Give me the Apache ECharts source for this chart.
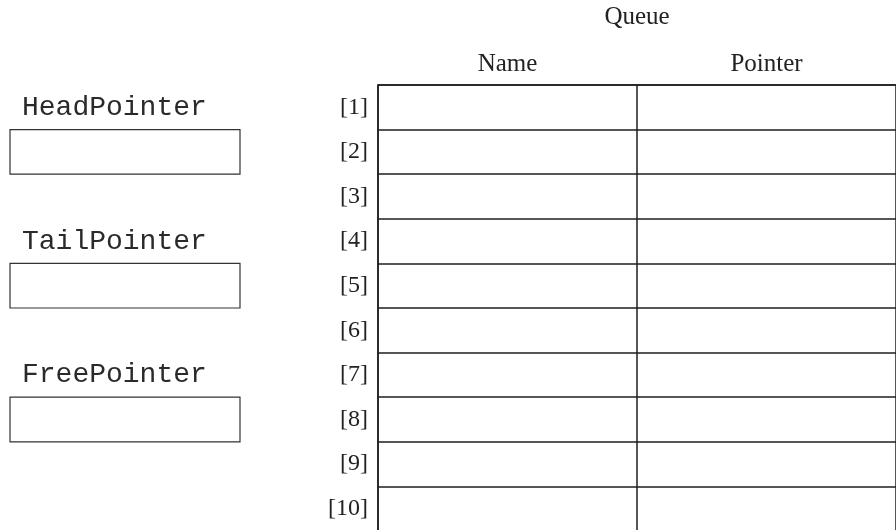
<!DOCTYPE html>
<html>
<head>
<meta charset="utf-8">
<script src="https://cdn.jsdelivr.net/npm/echarts@6/dist/echarts.min.js"></script>
<style>html,body{margin:0;padding:0;background:#fff;}#chart{width:896px;height:530px;}</style>
</head>
<body>
<div id="chart"></div>
<script>
var tableTitle = 'Queue';
var columns = ['Name', 'Pointer'];
var rowLabels = ['[1]', '[2]', '[3]', '[4]', '[5]', '[6]', '[7]', '[8]', '[9]', '[10]'];
var pointerNames = ['HeadPointer', 'TailPointer', 'FreePointer'];
var pointerLabelRows = ['[1]', '[4]', '[7]'];
var pointerBoxRows = ['[2]', '[5]', '[8]'];

var lineColor = '#1e1e1e';
var serif = '"Liberation Serif", "DejaVu Serif", serif';
var mono = '"Liberation Mono", "DejaVu Sans Mono", monospace';

var chart = echarts.init(document.getElementById('chart'), null, {renderer: 'canvas'});

var pointerData = pointerNames.map(function (n, i) {
  return [rowLabels.indexOf(pointerLabelRows[i]), rowLabels.indexOf(pointerBoxRows[i]), n];
});

chart.setOption({
  backgroundColor: '#ffffff',
  animation: false,
  grid: [
    {left: 378, top: 85, width: 518, height: 446, show: false, containLabel: false, outerBoundsMode: 'none'},
    {left: 10, top: 85, width: 230, height: 446, show: false, containLabel: false, outerBoundsMode: 'none'}
  ],
  xAxis: [
    {
      gridIndex: 0, type: 'category', data: columns, position: 'top',
      name: tableTitle, nameLocation: 'middle', nameGap: 55,
      nameTextStyle: {fontFamily: serif, fontSize: 25, color: '#222'},
      axisLine: {show: true, lineStyle: {color: lineColor, width: 1.5}},
      axisTick: {show: false},
      axisLabel: {margin: 8, fontFamily: serif, fontSize: 25, color: '#222'},
      splitLine: {show: true, lineStyle: {color: lineColor, width: 1.5}}
    },
    {gridIndex: 1, type: 'value', min: 0, max: 1, show: false}
  ],
  yAxis: [
    {
      gridIndex: 0, type: 'category', data: rowLabels, inverse: true,
      axisLine: {show: true, lineStyle: {color: lineColor, width: 1.5}},
      axisTick: {show: false},
      axisLabel: {margin: 10, fontFamily: serif, fontSize: 24, color: '#222'},
      splitLine: {show: true, lineStyle: {color: lineColor, width: 1.5}}
    },
    {gridIndex: 1, type: 'category', data: rowLabels, inverse: true, show: false}
  ],
  series: [
    {
      type: 'custom',
      xAxisIndex: 1, yAxisIndex: 1,
      data: pointerData,
      encode: {y: [0, 1]},
      renderItem: function (params, api) {
        var labelRow = api.value(0);
        var boxRow = api.value(1);
        var name = pointerData[params.dataIndex][2];
        var size = api.size([1, 1]);
        var w = size[0], h = size[1];
        var labelC = api.coord([0, labelRow]);
        var boxC = api.coord([0, boxRow]);
        return {
          type: 'group',
          children: [
            {
              type: 'text',
              style: {
                x: labelC[0] + 12, y: labelC[1],
                text: name,
                fill: '#2a2a2a',
                font: '28px ' + mono,
                verticalAlign: 'middle', align: 'left'
              }
            },
            {
              type: 'rect',
              shape: {x: boxC[0], y: boxC[1] - h / 2, width: w, height: h},
              style: {fill: 'none', stroke: '#333', lineWidth: 1.2}
            }
          ]
        };
      }
    }
  ]
});
</script>
</body>
</html>
